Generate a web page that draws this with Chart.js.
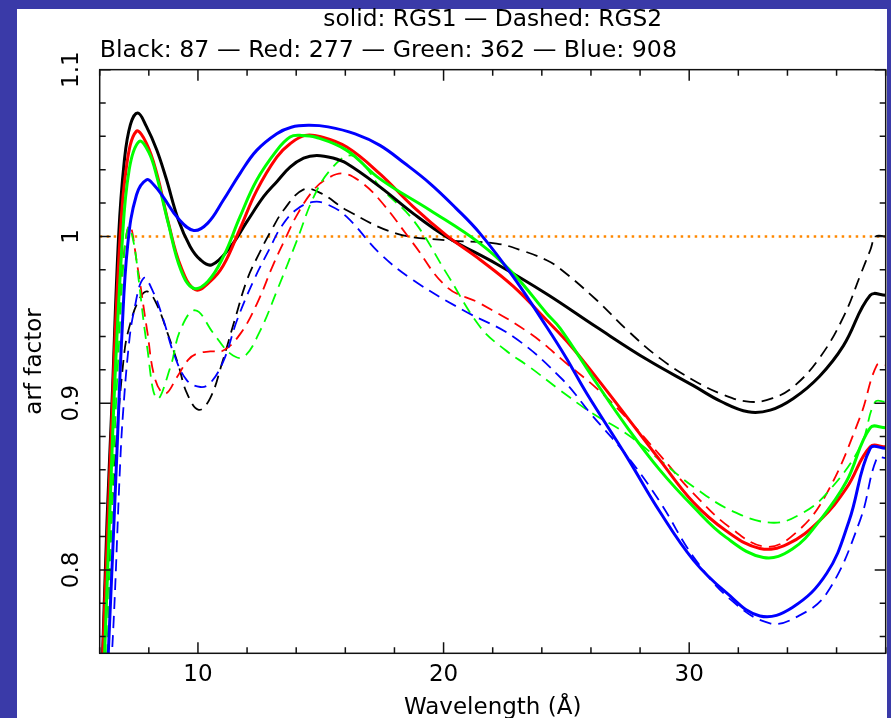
<!DOCTYPE html>
<html>
<head>
<meta charset="utf-8">
<script src="https://cdn.jsdelivr.net/npm/chart.js@4/dist/chart.umd.min.js"></script>
<style>
  html, body { margin: 0; padding: 0; background: #3a3aa8; }
  canvas { display: block; }
</style>
</head>
<body>
<canvas id="c" width="891" height="718"></canvas>
<script>
// ---- texts ----
const titleLine1 = 'solid: RGS1 \u2014 Dashed: RGS2';
const titleLine2 = 'Black: 87 \u2014 Red: 277 \u2014 Green: 362 \u2014 Blue: 908';
const xAxisTitle = 'Wavelength (\u00C5)';
const yAxisTitle = 'arf factor';

// ---- tick labels ----
const xTickValues = [10, 20, 30];
const xTickLabels = ['10', '20', '30'];
const yTickValues = [0.8, 0.9, 1.0, 1.1];
const yTickLabels = ['0.8', '0.9', '1', '1.1'];
const referenceLevel = 1.0;

// ---- RGS1 (solid) ----
const rgs1BlackWl  = [6.0, 6.12, 6.3, 6.5, 6.77, 7.0, 7.25, 7.55, 7.9, 8.32, 8.7, 9.2, 9.68, 10.1, 10.56, 11.32, 12.0, 12.68, 13.22, 13.75, 14.3, 14.84, 15.5, 16.06, 17.41, 18.77, 20.13, 22.16, 24.2, 26.24, 28.3, 30.17, 31.3, 32.4, 33.3, 34.24, 35.3, 36.28, 37.37, 38.0];
const rgs1BlackArf = [0.70, 0.75, 0.83, 0.90, 1.0, 1.045, 1.067, 1.074, 1.066, 1.052, 1.035, 1.01, 0.994, 0.986, 0.983, 0.9937, 1.009, 1.024, 1.033, 1.0416, 1.047, 1.0486, 1.047, 1.0437, 1.0297, 1.0137, 0.9997, 0.9835, 0.9655, 0.9455, 0.926, 0.9105, 0.901, 0.8948, 0.8958, 0.9028, 0.916, 0.9345, 0.9647, 0.9647];

const rgs1RedWl  = [6.0, 6.13, 6.5, 6.81, 7.1, 7.49, 7.9, 8.32, 8.8, 9.3, 9.9, 10.5, 11.03, 11.71, 12.39, 13.21, 13.75, 14.36, 15.0, 16.06, 17.41, 18.77, 20.13, 21.49, 22.84, 24.2, 25.2, 26.24, 27.46, 28.8, 30.17, 31.5, 32.88, 34.0, 35.33, 36.4, 37.37, 38.0];
const rgs1RedArf = [0.70, 0.75, 0.893, 0.995, 1.043, 1.063, 1.056, 1.038, 1.008, 0.982, 0.968, 0.973, 0.9825, 1.0045, 1.0275, 1.0476, 1.0556, 1.0606, 1.0598, 1.0536, 1.0375, 1.0177, 1.0005, 0.986, 0.970, 0.9497, 0.934, 0.915, 0.8918, 0.866, 0.8405, 0.8235, 0.8129, 0.8155, 0.8299, 0.849, 0.8738, 0.8738];

const rgs1GreenWl  = [6.0, 6.2, 6.55, 6.91, 7.2, 7.61, 8.0, 8.32, 8.8, 9.3, 9.81, 10.4, 11.03, 11.71, 12.39, 13.21, 13.75, 14.16, 14.8, 16.06, 17.41, 19.45, 21.49, 22.84, 24.2, 24.74, 26.24, 27.46, 28.8, 30.17, 31.5, 33.02, 34.2, 35.33, 36.4, 37.37, 38.0];
const rgs1GreenArf = [0.70, 0.75, 0.89, 0.995, 1.04, 1.057, 1.0504, 1.0362, 1.0073, 0.9801, 0.969, 0.973, 0.9877, 1.0117, 1.0337, 1.0516, 1.0596, 1.0606, 1.0595, 1.0516, 1.0345, 1.0157, 0.9957, 0.9777, 0.9538, 0.945, 0.9118, 0.8858, 0.86, 0.8379, 0.8195, 0.8075, 0.8125, 0.8299, 0.853, 0.8852, 0.8852];

const rgs1BlueWl  = [6.0, 6.35, 6.7, 6.9, 7.14, 7.5, 7.91, 8.2, 8.59, 9.2, 9.83, 10.4, 11.03, 11.71, 12.39, 13.21, 13.8, 14.49, 15.3, 16.4, 17.41, 18.4, 19.45, 20.5, 21.49, 22.84, 24.2, 25.0, 25.83, 27.46, 28.8, 30.17, 31.5, 32.88, 34.2, 35.6, 36.5, 37.37, 38.0];
const rgs1BlueArf = [0.64, 0.75, 0.87, 0.94, 0.995, 1.025, 1.034, 1.031, 1.0236, 1.0107, 1.0036, 1.008, 1.0217, 1.0377, 1.0516, 1.0616, 1.0655, 1.0666, 1.0657, 1.0615, 1.0546, 1.044, 1.0317, 1.017, 1.0017, 0.9757, 0.9457, 0.927, 0.9058, 0.8678, 0.835, 0.8059, 0.7865, 0.7724, 0.7775, 0.798, 0.829, 0.8729, 0.8729];

// ---- RGS2 (dashed) ----
const rgs2BlackWl  = [6.0, 6.2, 6.6, 7.0, 7.25, 7.6, 7.93, 8.3, 8.81, 9.22, 9.55, 10.03, 10.5, 11.0, 11.5, 12.0, 12.5, 13.0, 13.5, 14.29, 15.0, 16.06, 18.09, 20.13, 22.16, 23.3, 24.2, 24.74, 26.24, 27.46, 28.8, 30.17, 31.4, 32.48, 33.4, 34.24, 35.3, 36.28, 37.0, 37.37, 37.6, 38.0];
const rgs2BlackArf = [0.68, 0.75, 0.86, 0.93, 0.948, 0.962, 0.967, 0.96, 0.94, 0.922, 0.906, 0.896, 0.903, 0.925, 0.95, 0.974, 0.99, 1.004, 1.016, 1.0281, 1.026, 1.0157, 1.0017, 0.9977, 0.9957, 0.991, 0.9857, 0.9807, 0.9617, 0.944, 0.927, 0.9138, 0.905, 0.9008, 0.903, 0.9098, 0.927, 0.9517, 0.978, 0.9917, 1.0, 1.0];

const rgs2RedWl  = [6.0, 6.2, 6.5, 6.7, 6.95, 7.22, 7.52, 7.93, 8.27, 8.67, 9.15, 9.6, 9.96, 10.5, 11.05, 11.73, 12.4, 13.08, 13.6, 14.0, 14.7, 15.3, 15.92, 16.6, 17.41, 18.77, 20.13, 21.49, 23.52, 25.01, 26.3, 27.46, 28.8, 30.17, 31.7, 33.16, 34.4, 35.6, 36.96, 37.64, 38.0];
const rgs2RedArf = [0.68, 0.75, 0.866, 0.934, 0.985, 1.0066, 0.9836, 0.9437, 0.9137, 0.9057, 0.9157, 0.926, 0.9297, 0.931, 0.9317, 0.9417, 0.9596, 0.9836, 1.0, 1.012, 1.0277, 1.035, 1.0377, 1.033, 1.0217, 0.9957, 0.9697, 0.9598, 0.9418, 0.9238, 0.908, 0.891, 0.869, 0.8459, 0.825, 0.8139, 0.823, 0.8459, 0.8918, 0.9228, 0.9228];

const rgs2GreenWl  = [6.0, 6.3, 6.57, 6.8, 7.0, 7.18, 7.4, 7.59, 7.93, 8.33, 8.88, 9.28, 9.89, 10.64, 11.32, 11.86, 12.54, 13.22, 14.03, 14.71, 15.4, 16.19, 16.8, 17.41, 18.77, 20.13, 21.49, 22.5, 23.52, 24.74, 26.0, 27.46, 28.8, 30.17, 31.8, 33.43, 34.6, 35.6, 36.96, 37.57, 38.0];
const rgs2GreenArf = [0.68, 0.75, 0.866, 0.94, 0.99, 1.0056, 0.995, 0.9736, 0.9337, 0.9027, 0.9217, 0.9437, 0.9557, 0.9417, 0.9297, 0.9277, 0.9437, 0.9676, 0.9976, 1.0236, 1.04, 1.0486, 1.042, 1.0297, 1.0097, 0.9777, 0.9457, 0.932, 0.9215, 0.9078, 0.8945, 0.8815, 0.866, 0.8499, 0.835, 0.8283, 0.834, 0.8459, 0.8738, 0.9008, 0.9008];

const rgs2BlueWl  = [6.0, 6.5, 6.84, 6.95, 7.18, 7.38, 7.79, 8.2, 8.6, 9.01, 9.55, 10.1, 10.5, 11.05, 11.59, 12.27, 12.95, 13.4, 14.0, 14.7, 15.3, 16.06, 17.41, 18.77, 20.8, 22.84, 24.8, 26.0, 27.46, 28.8, 30.17, 31.7, 33.29, 34.4, 35.6, 36.96, 37.64, 38.0];
const rgs2BlueArf = [0.64, 0.75, 0.866, 0.894, 0.934, 0.954, 0.975, 0.966, 0.9497, 0.93, 0.9137, 0.9097, 0.912, 0.9257, 0.9497, 0.9736, 0.9936, 1.006, 1.016, 1.0207, 1.019, 1.0117, 0.9897, 0.9737, 0.9557, 0.9398, 0.9148, 0.8935, 0.8685, 0.841, 0.8079, 0.782, 0.768, 0.772, 0.786, 0.8299, 0.867, 0.867];

// ---- style ----
const FONT = { family: '"DejaVu Sans", sans-serif', size: 23, weight: 'normal', lineHeight: 1.2 };
const C_BLACK = '#000000', C_RED = '#ff0000', C_GREEN = '#00ff00', C_BLUE = '#0000ff', C_ORANGE = '#ff8800';

function series(label, wl, arf, color, dashed, order) {
  return {
    label,
    data: wl.map((w, i) => ({ x: w, y: arf[i] })),
    borderColor: color,
    backgroundColor: color,
    borderWidth: dashed ? 1.8 : 3,
    borderDash: dashed ? [12, 7] : [],
    pointRadius: 0,
    pointHoverRadius: 0,
    tension: 0.4,
    fill: false,
    clip: 0,
    order
  };
}

const xMin = 6, xMax = 38, yMin = 0.75, yMax = 1.1;

const datasets = [
  {
    label: 'reference',
    data: [{ x: xMin, y: referenceLevel }, { x: xMax, y: referenceLevel }],
    borderColor: C_ORANGE, borderWidth: 2.5, borderDash: [2.5, 4.5],
    pointRadius: 0, fill: false, clip: 0, order: 50
  },
  series('RGS2 87',  rgs2BlackWl, rgs2BlackArf, C_BLACK, true, 14),
  series('RGS2 277', rgs2RedWl,   rgs2RedArf,   C_RED,   true, 13),
  series('RGS2 362', rgs2GreenWl, rgs2GreenArf, C_GREEN, true, 12),
  series('RGS2 908', rgs2BlueWl,  rgs2BlueArf,  C_BLUE,  true, 11),
  series('RGS1 87',  rgs1BlackWl, rgs1BlackArf, C_BLACK, false, 4),
  series('RGS1 277', rgs1RedWl,   rgs1RedArf,   C_RED,   false, 3),
  series('RGS1 362', rgs1GreenWl, rgs1GreenArf, C_GREEN, false, 2),
  series('RGS1 908', rgs1BlueWl,  rgs1BlueArf,  C_BLUE,  false, 1)
];

const framePlugin = {
  id: 'framePlugin',
  beforeDraw(chart) {
    const { ctx, width, height } = chart;
    ctx.save();
    ctx.fillStyle = '#3a3aa8';
    ctx.fillRect(0, 0, width, height);
    ctx.fillStyle = '#ffffff';
    ctx.fillRect(17, 9, 870, height - 9);
    ctx.restore();
  },
  afterDatasetsDraw(chart) {
    const { ctx, chartArea: a, scales: { x, y } } = chart;
    ctx.save();
    ctx.strokeStyle = '#111111';
    ctx.lineWidth = 1.5;
    ctx.strokeRect(a.left, a.top, a.right - a.left, a.bottom - a.top);
    ctx.beginPath();
    for (let v = xMin; v <= xMax + 1e-9; v += 2) {
      const px = x.getPixelForValue(v);
      const len = (Math.abs(v % 10) < 1e-9) ? 11 : 6;
      ctx.moveTo(px, a.bottom); ctx.lineTo(px, a.bottom - len);
      ctx.moveTo(px, a.top);    ctx.lineTo(px, a.top + len);
    }
    for (let i = 0; i <= 17; i++) {
      const v = 0.76 + i * 0.02;
      const py = y.getPixelForValue(v);
      const major = yTickValues.some(t => Math.abs(t - v) < 1e-6);
      const len = major ? 11 : 6;
      ctx.moveTo(a.left, py);  ctx.lineTo(a.left + len, py);
      ctx.moveTo(a.right, py); ctx.lineTo(a.right - len, py);
    }
    ctx.stroke();
    ctx.restore();
  }
};

new Chart(document.getElementById('c'), {
  type: 'line',
  data: { datasets },
  options: {
    responsive: false,
    devicePixelRatio: 1,
    animation: false,
    events: [],
    layout: { padding: { left: 0, right: 5.3, top: 0, bottom: 0 } },
    plugins: {
      legend: { display: false },
      tooltip: { enabled: false },
      title: {
        display: true, text: titleLine1, fullSize: false, align: 'center',
        color: '#000', font: Object.assign({}, FONT, { size: 23.3 }), padding: { top: 6, bottom: 2 }
      },
      subtitle: {
        display: true, text: titleLine2, fullSize: false, align: 'start',
        color: '#000', font: Object.assign({}, FONT, { size: 23.7, lineHeight: 1.165 }), padding: { top: 1, bottom: 5.1 }
      }
    },
    scales: {
      x: {
        type: 'linear', min: xMin, max: xMax,
        grid: { display: false }, border: { display: false },
        afterBuildTicks: s => { s.ticks = xTickValues.map(v => ({ value: v })); },
        afterFit: s => { s.height = 64.7; },
        ticks: {
          autoSkip: false, maxRotation: 0, minRotation: 0, padding: 0,
          color: '#000', font: FONT,
          callback: v => xTickLabels[xTickValues.findIndex(t => Math.abs(t - v) < 1e-9)]
        },
        title: {
          display: true, text: xAxisTitle, color: '#000',
          font: Object.assign({}, FONT, { lineHeight: 1.0 }),
          padding: { top: 0, bottom: -1.5 }
        }
      },
      y: {
        type: 'linear', min: yMin, max: yMax,
        grid: { display: false }, border: { display: false },
        afterBuildTicks: s => { s.ticks = yTickValues.map(v => ({ value: v })); },
        afterFit: s => { s.width = 99.7; },
        ticks: {
          autoSkip: false, minRotation: 90, maxRotation: 90, crossAlign: 'center', padding: 1.5,
          color: '#000', font: FONT,
          callback: v => yTickLabels[yTickValues.findIndex(t => Math.abs(t - v) < 1e-9)]
        },
        title: {
          display: true, text: yAxisTitle, color: '#000', font: FONT,
          padding: { top: 21.2, bottom: 0 }
        }
      }
    }
  },
  plugins: [framePlugin]
});
</script>
</body>
</html>
